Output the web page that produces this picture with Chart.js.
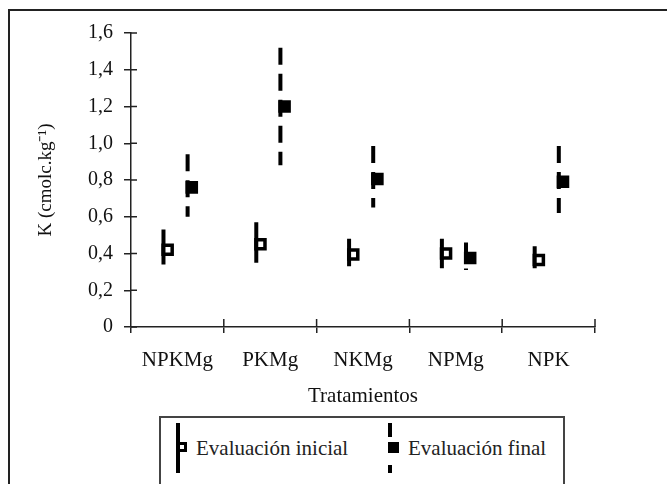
<!DOCTYPE html>
<html lang="es">
<head>
<meta charset="UTF-8">
<title>K por tratamiento</title>
<script src="https://cdn.jsdelivr.net/npm/chart.js@4.4.0/dist/chart.umd.min.js"></script>
<style>
    html, body { margin: 0; padding: 0; background: #fff; overflow: hidden; }
    .wrap { position: relative; width: 667px; height: 484px; overflow: hidden; }
    .frame {
        position: absolute; left: 8px; top: 9px; width: 900px; height: 700px;
        border-left: 2px solid #222; border-top: 2px solid #222;
    }
    #chart { position: absolute; left: 0; top: 0; }
    .legend {
        position: absolute; left: 159px; top: 416px; width: 402px; height: 120px;
        border: 2px solid #444; background: #fff;
    }
    .item {
        position: absolute; top: 5px; height: 50px;
        display: flex; align-items: center;
        font-family: 'Liberation Serif', 'Times New Roman', serif; font-size: 21px; color: #222;
        white-space: nowrap;
    }
    .icon { position: relative; width: 12px; height: 50px; margin-right: 8px; }
    .icon .bar { position: absolute; left: 0; top: 0; width: 4px; height: 50px; background: #000; }
    .icon .bar.dash {
        background: linear-gradient(to bottom, #000 0 14px, transparent 14px 19px,
            #000 19px 30px, transparent 30px 42px, #000 42px 50px);
    }
    .icon .sq { position: absolute; left: 1px; top: 19px; width: 10px; height: 10px; box-sizing: border-box; }
    .icon .sq.open { border: 3px solid #000; background: #fff; }
    .icon .sq.full { left: 0; width: 11px; height: 11px; background: #000; }
</style>
</head>
<body>
<div class="wrap">
    <div class="frame"></div>
    <canvas id="chart" width="667" height="484"></canvas>
    <div class="legend" id="legend"></div>
</div>
<script>
// valores (cmolc/kg)
const categories = ['NPKMg', 'PKMg', 'NKMg', 'NPMg', 'NPK'];
const seriesNames = ['Evaluación inicial', 'Evaluación final'];

const initialMean = [0.42, 0.45, 0.395, 0.40, 0.365];
const initialHigh = [0.53, 0.57, 0.48, 0.48, 0.44];
const initialLow = [0.34, 0.35, 0.33, 0.32, 0.32];

const finalMean = [0.76, 1.20, 0.805, 0.375, 0.79];
const finalHigh = [0.94, 1.52, 0.985, 0.46, 0.985];
const finalLow = [0.60, 0.88, 0.65, 0.31, 0.62];

const yTickLabels = ['0', '0,2', '0,4', '0,6', '0,8', '1,0', '1,2', '1,4', '1,6'];

// horizontal placement inside each category (category units)
const INIT_SHIFT = -0.15;
const FINAL_SHIFT = 0.11;
const MARK_SHIFT = 0.045;

const serif = 'Liberation Serif, Times New Roman, serif';
const ink = '#111';

function rangeLine(high, low, shift) {
    const pts = [];
    high.forEach((h, i) => {
        pts.push({ x: i + shift, y: h }, { x: i + shift, y: low[i] }, { x: i + shift, y: null });
    });
    return pts;
}

function markers(mean, shift) {
    return mean.map((m, i) => ({ x: i + shift + MARK_SHIFT, y: m }));
}

// short ticks on the inner side of both axes
const innerTicks = {
    id: 'innerTicks',
    afterDraw(chart) {
        const { ctx, chartArea, scales } = chart;
        ctx.save();
        ctx.strokeStyle = '#222';
        ctx.lineWidth = 1.5;
        ctx.beginPath();
        for (let i = 1; i <= categories.length; i++) {
            const px = scales.x.getPixelForValue(i - 0.5);
            ctx.moveTo(px, chartArea.bottom - 8);
            ctx.lineTo(px, chartArea.bottom);
        }
        scales.y.ticks.forEach(t => {
            const py = scales.y.getPixelForValue(t.value);
            ctx.moveTo(chartArea.left, py);
            ctx.lineTo(chartArea.left + 6, py);
        });
        ctx.stroke();
        ctx.restore();
    }
};

new Chart(document.getElementById('chart'), {
    type: 'line',
    data: {
        datasets: [
            {
                label: seriesNames[0] + ' rango',
                data: rangeLine(initialHigh, initialLow, INIT_SHIFT),
                xAxisID: 'xv',
                borderColor: '#000',
                borderWidth: 4,
                borderCapStyle: 'butt',
                pointRadius: 0,
                spanGaps: false
            },
            {
                label: seriesNames[1] + ' rango',
                data: rangeLine(finalHigh, finalLow, FINAL_SHIFT),
                xAxisID: 'xv',
                borderColor: '#000',
                borderWidth: 4,
                borderCapStyle: 'butt',
                borderDash: [17, 9],
                pointRadius: 0,
                spanGaps: false
            },
            {
                label: seriesNames[0],
                data: markers(initialMean, INIT_SHIFT),
                xAxisID: 'xv',
                showLine: false,
                pointStyle: 'rect',
                pointRadius: 6.4,
                pointBorderWidth: 3.5,
                pointBorderColor: '#000',
                pointBackgroundColor: '#fff'
            },
            {
                label: seriesNames[1],
                data: markers(finalMean, FINAL_SHIFT),
                xAxisID: 'xv',
                showLine: false,
                pointStyle: 'rect',
                pointRadius: 6.4,
                pointBorderWidth: 3.5,
                pointBorderColor: '#000',
                pointBackgroundColor: '#000'
            }
        ]
    },
    options: {
        responsive: false,
        animation: false,
        layout: { padding: { left: 0, right: 72, top: 33, bottom: 73 } },
        plugins: {
            legend: { display: false },
            tooltip: { enabled: false }
        },
        scales: {
            x: {
                type: 'category',
                labels: categories,
                offset: true,
                grid: { offset: true, drawOnChartArea: false, tickLength: 6, color: '#222', lineWidth: 1.5 },
                border: { color: '#222', width: 1.5 },
                ticks: { color: ink, padding: 15, font: { family: serif, size: 21 } },
                title: {
                    display: true,
                    text: 'Tratamientos',
                    color: ink,
                    font: { family: serif, size: 21 },
                    padding: { top: 0, bottom: 2 }
                },
                afterFit(scale) { scale.height = 84; }
            },
            xv: {
                type: 'linear',
                display: false,
                min: -0.5,
                max: categories.length - 0.5
            },
            y: {
                min: 0,
                max: 1.6,
                grid: { drawOnChartArea: false, tickLength: 7, color: '#222', lineWidth: 1.5 },
                border: { color: '#222', width: 1.5 },
                ticks: {
                    stepSize: 0.2,
                    color: ink,
                    padding: 11,
                    font: { family: serif, size: 20 },
                    callback: (v, i) => yTickLabels[i]
                },
                title: {
                    display: true,
                    text: 'K (cmolc.kg⁻¹)',
                    color: ink,
                    font: { family: serif, size: 19 },
                    padding: { top: 35, bottom: 0 }
                },
                afterFit(scale) { scale.width = 131; }
            }
        }
    },
    plugins: [innerTicks]
});

// legend box
const legendEl = document.getElementById('legend');
const legendLeft = [15, 227];
seriesNames.forEach((name, i) => {
    const item = document.createElement('div');
    item.className = 'item';
    item.style.left = legendLeft[i] + 'px';
    const icon = document.createElement('div');
    icon.className = 'icon';
    icon.innerHTML = i === 0
        ? '<div class="bar"></div><div class="sq open"></div>'
        : '<div class="bar dash"></div><div class="sq full"></div>';
    const label = document.createElement('span');
    label.textContent = name;
    item.appendChild(icon);
    item.appendChild(label);
    legendEl.appendChild(item);
});
</script>
</body>
</html>
